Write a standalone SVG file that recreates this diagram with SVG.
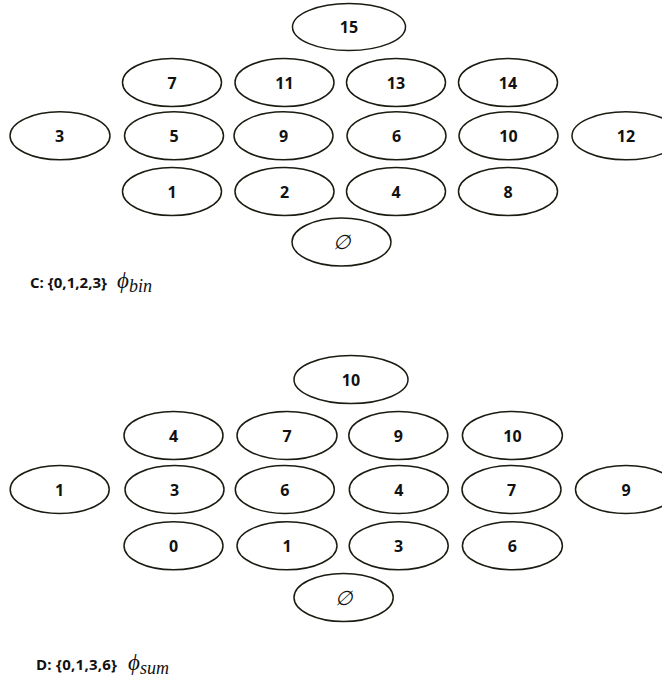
<svg xmlns="http://www.w3.org/2000/svg" width="662" height="684" viewBox="0 0 662 684">
<style>
.n ellipse{fill:#fff;stroke:#1c1b12;stroke-width:1.5}
.n text{font-family:"Open Sans","Liberation Sans",sans-serif;font-weight:bold;font-size:16px;text-anchor:middle;fill:#111}
.n text.e{font-family:"Liberation Serif",serif;font-style:italic;font-weight:normal;font-size:20px}
.lab{font-family:"Open Sans","Liberation Sans",sans-serif;font-weight:bold;font-size:15px;fill:#111}
.phi{font-family:"Liberation Serif","DejaVu Serif",serif;font-style:italic;font-size:23px;fill:#111}
.sub{font-size:18px}
</style>
<rect width="662" height="684" fill="#fff"/>
<g id="connectors"></g>
<!-- Diagram C -->
<g id="c15" class="n"><ellipse cx="349" cy="27" rx="56.5" ry="23.5"/><text x="349" y="33">15</text></g>
<g id="c7" class="n"><ellipse cx="172" cy="82.5" rx="49.5" ry="24"/><text x="172" y="88.5">7</text></g>
<g id="c11" class="n"><ellipse cx="284.5" cy="82.5" rx="49.5" ry="24"/><text x="284.5" y="88.5">11</text></g>
<g id="c13" class="n"><ellipse cx="396" cy="82.5" rx="49.5" ry="24"/><text x="396" y="88.5">13</text></g>
<g id="c14" class="n"><ellipse cx="508" cy="82.5" rx="49.5" ry="24"/><text x="508" y="88.5">14</text></g>
<g id="c3" class="n"><ellipse cx="60" cy="135.8" rx="50" ry="24"/><text x="59.5" y="141.8">3</text></g>
<g id="c5" class="n"><ellipse cx="174" cy="135.8" rx="49.5" ry="24"/><text x="174" y="141.8">5</text></g>
<g id="c9" class="n"><ellipse cx="283.5" cy="135.8" rx="49.5" ry="24"/><text x="283.5" y="141.8">9</text></g>
<g id="c6" class="n"><ellipse cx="396.5" cy="135.8" rx="49.5" ry="24"/><text x="396.5" y="141.8">6</text></g>
<g id="c10" class="n"><ellipse cx="508.5" cy="135.8" rx="49.5" ry="24"/><text x="508.5" y="141.8">10</text></g>
<g id="c12" class="n"><ellipse cx="626" cy="135.8" rx="54" ry="24"/><text x="626" y="141.8">12</text></g>
<g id="c1" class="n"><ellipse cx="172" cy="191.5" rx="49.5" ry="24"/><text x="172" y="197.5">1</text></g>
<g id="c2" class="n"><ellipse cx="284.5" cy="191.5" rx="49.5" ry="24"/><text x="284.5" y="197.5">2</text></g>
<g id="c4" class="n"><ellipse cx="396" cy="191.5" rx="49.5" ry="24"/><text x="396" y="197.5">4</text></g>
<g id="c8" class="n"><ellipse cx="508" cy="191.5" rx="49.5" ry="24"/><text x="508" y="197.5">8</text></g>
<g id="cempty" class="n"><ellipse cx="341.5" cy="242" rx="49.5" ry="24"/><text class="e" x="341" y="249">∅</text></g>
<g id="labelC"><text class="lab" x="30" y="288" textLength="77" lengthAdjust="spacing">C: {0,1,2,3}</text><text class="phi" x="117" y="288">ϕ<tspan class="sub" dy="4">bin</tspan></text></g>
<!-- Diagram D -->
<g id="d10top" class="n"><ellipse cx="351" cy="379.5" rx="57" ry="24"/><text x="351" y="385.5">10</text></g>
<g id="d4a" class="n"><ellipse cx="173.5" cy="435.5" rx="49.5" ry="24"/><text x="173.5" y="441.5">4</text></g>
<g id="d7a" class="n"><ellipse cx="287" cy="435.5" rx="50" ry="24"/><text x="287" y="441.5">7</text></g>
<g id="d9a" class="n"><ellipse cx="398.3" cy="435.5" rx="49.5" ry="24"/><text x="398.3" y="441.5">9</text></g>
<g id="d10a" class="n"><ellipse cx="512.4" cy="435.5" rx="50" ry="24"/><text x="512.4" y="441.5">10</text></g>
<g id="d1b" class="n"><ellipse cx="59.7" cy="489.5" rx="49.5" ry="24"/><text x="59.7" y="495.5">1</text></g>
<g id="d3b" class="n"><ellipse cx="174.5" cy="489.5" rx="49.5" ry="24"/><text x="174.5" y="495.5">3</text></g>
<g id="d6b" class="n"><ellipse cx="284.8" cy="489.5" rx="49.5" ry="24"/><text x="284.8" y="495.5">6</text></g>
<g id="d4b" class="n"><ellipse cx="398.8" cy="489.5" rx="49.5" ry="24"/><text x="398.8" y="495.5">4</text></g>
<g id="d7b" class="n"><ellipse cx="511.5" cy="489.5" rx="49.5" ry="24"/><text x="511.5" y="495.5">7</text></g>
<g id="d9b" class="n"><ellipse cx="626" cy="489.5" rx="50.5" ry="24"/><text x="626" y="495.5">9</text></g>
<g id="d0c" class="n"><ellipse cx="173.5" cy="545.8" rx="49.5" ry="24"/><text x="173.5" y="551.8">0</text></g>
<g id="d1c" class="n"><ellipse cx="287" cy="545.8" rx="50" ry="24"/><text x="287" y="551.8">1</text></g>
<g id="d3c" class="n"><ellipse cx="398.7" cy="545.8" rx="49.5" ry="24"/><text x="398.7" y="551.8">3</text></g>
<g id="d6c" class="n"><ellipse cx="512.4" cy="545.8" rx="50" ry="24"/><text x="512.4" y="551.8">6</text></g>
<g id="dempty" class="n"><ellipse cx="343.6" cy="597.5" rx="49.6" ry="24"/><text class="e" x="343.6" y="604.5">∅</text></g>
<g id="labelD"><text class="lab" x="36" y="670" textLength="81" lengthAdjust="spacing">D: {0,1,3,6}</text><text class="phi" x="128" y="670">ϕ<tspan class="sub" dy="4">sum</tspan></text></g>
</svg>
